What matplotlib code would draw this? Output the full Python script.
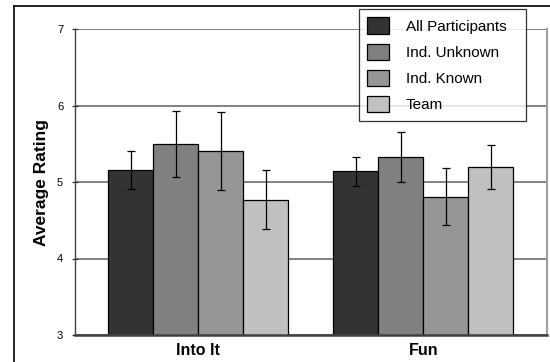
import matplotlib.pyplot as plt
import numpy as np
from matplotlib.lines import Line2D

categories = ['Into It', 'Fun']
groups = ['All Participants', 'Ind. Unknown', 'Ind. Known', 'Team']
means = {
    'All Participants': [5.16, 5.14],
    'Ind. Unknown': [5.50, 5.33],
    'Ind. Known': [5.40, 4.81],
    'Team': [4.77, 5.20],
}
errors = {
    'All Participants': [0.25, 0.19],
    'Ind. Unknown': [0.43, 0.33],
    'Ind. Known': [0.51, 0.37],
    'Team': [0.39, 0.29],
}
colors = ['#333333', '#808080', '#969696', '#c0c0c0']

fig = plt.figure(figsize=(5.5, 3.62), dpi=100)
ax = fig.add_axes([75 / 550, 1 - 335 / 362, 472 / 550, 306 / 362])

x = np.arange(len(categories))
width = 0.2
for i, g in enumerate(groups):
    pos = x + (i - 1.5) * width
    ax.bar(pos, means[g], width, bottom=0, color=colors[i], edgecolor='black',
           linewidth=0.9, label=g, zorder=2)
    ax.errorbar(pos, means[g], yerr=errors[g], fmt='none', ecolor='black',
                elinewidth=0.9, capsize=3, capthick=0.9, zorder=3)

ax.set_ylim(3, 7)
ax.set_xlim(-0.547, 1.55)
ax.set_yticks([3, 4, 5, 6, 7])
ax.yaxis.grid(True, color='#606060', linewidth=1.1, zorder=1)
ax.set_axisbelow(True)
ax.set_xticks(x)
ax.set_xticklabels(categories, fontsize=11.5, fontweight='bold',
                   family='Liberation Sans')
ax.tick_params(axis='x', length=0, pad=6)
ax.tick_params(axis='y', direction='inout', length=5, width=0.9,
               labelsize=8, pad=6, colors='#333333')
for lbl in ax.get_yticklabels():
    lbl.set_family('Liberation Sans')
    lbl.set_color('black')

ax.spines['top'].set_visible(False)
ax.spines['right'].set_color('#a0a0a0')
ax.spines['right'].set_linewidth(1.5)
ax.spines['left'].set_color('#404040')
ax.spines['left'].set_linewidth(1.0)
ax.spines['bottom'].set_color('#404040')
ax.spines['bottom'].set_linewidth(1.8)

ax.set_ylabel('Average Rating', fontsize=12.5, fontweight='bold',
              family='Liberation Sans', labelpad=6)

leg = fig.legend(loc='upper left',
                 bbox_to_anchor=(359 / 550, 1 - 121 / 362, 167 / 550, 112 / 362),
                 mode='expand', frameon=True, fancybox=False, edgecolor='black',
                 handlelength=1.4, handleheight=1.3, handletextpad=1.1,
                 labelspacing=0.62, borderpad=0.55, borderaxespad=0,
                 prop={'family': 'Liberation Sans', 'size': 11})
leg.get_frame().set_linewidth(0.9)

# outer chart frame (left and top edges visible)
fig.add_artist(Line2D([14 / 550, 14 / 550], [0, 1 - 6 / 362], color='black',
                      linewidth=1.2, transform=fig.transFigure))
fig.add_artist(Line2D([14 / 550, 1], [1 - 6 / 362, 1 - 6 / 362], color='black',
                      linewidth=1.2, transform=fig.transFigure))

fig.savefig('out.png', dpi=100)
